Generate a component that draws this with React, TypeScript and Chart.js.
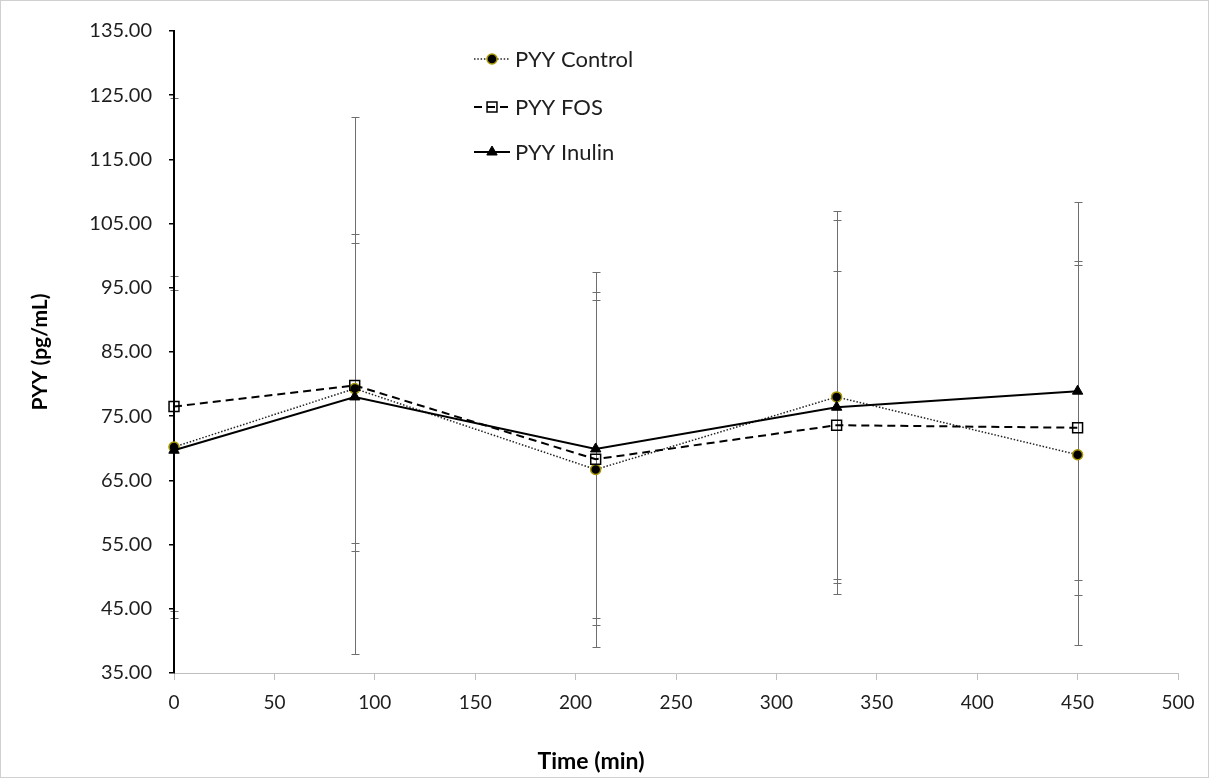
import React, { useEffect, useRef } from "react";
import { Chart, registerables } from "chart.js";

Chart.register(...registerables);

// ---- data ----
const times = [0, 90, 210, 330, 450];
const controlMean = [70.2, 79.3, 66.7, 78.0, 69.0];
const controlSD = [26.6, 24.1, 27.6, 29.0, 29.6];
const fosMean = [76.5, 79.8, 68.3, 73.6, 73.2];
const fosSD = [48.0, 41.8, 24.8, 24.0, 26.0];
const inulinMean = [69.7, 78.0, 69.9, 76.4, 78.9];
const inulinSD = [25.0, 24.0, 27.5, 29.1, 29.4];

const seriesLabels = ["PYY Control", "PYY FOS", "PYY Inulin"];
const xTitle = "Time (min)";
const yTitle = "PYY (pg/mL)";
const yMin = 35;
const yMax = 135;
const yStep = 10;
const xMin = 0;
const xMax = 500;
const xStep = 50;

const FONT = "Lato, 'Open Sans', sans-serif";

export default function App() {
  const ref = useRef<HTMLCanvasElement>(null);

  useEffect(() => {
    document.body.style.margin = "0";
    const canvas = ref.current;
    if (!canvas) return;
    const errs = [controlSD, fosSD, inulinSD];

    const errorBars = {
      id: "errorBars",
      beforeDraw(chart: any) {
        const { ctx, chartArea, scales } = chart;
        const x = scales.x;
        const y = scales.y;
        ctx.save();
        ctx.beginPath();
        ctx.rect(0, chartArea.top - 1, chart.width, chartArea.bottom - chartArea.top + 2);
        ctx.clip();
        ctx.strokeStyle = "#6e6e6e";
        ctx.lineWidth = 1;
        chart.data.datasets.forEach((ds: any, i: number) => {
          ds.data.forEach((p: any, j: number) => {
            const px = Math.round(x.getPixelForValue(p.x)) + 0.5;
            const top = Math.round(y.getPixelForValue(p.y + errs[i][j])) + 0.5;
            const bot = Math.round(y.getPixelForValue(p.y - errs[i][j])) + 0.5;
            ctx.beginPath();
            ctx.moveTo(px, top);
            ctx.lineTo(px, bot);
            ctx.moveTo(px - 4, top);
            ctx.lineTo(px + 4, top);
            ctx.moveTo(px - 4, bot);
            ctx.lineTo(px + 4, bot);
            ctx.stroke();
          });
        });
        ctx.restore();
      },
    };

    const drawMarker = (ctx: CanvasRenderingContext2D, ds: any, cx: number, cy: number) => {
      ctx.save();
      ctx.setLineDash([]);
      ctx.lineWidth = ds.pointBorderWidth;
      ctx.strokeStyle = ds.pointBorderColor;
      ctx.fillStyle = ds.pointBackgroundColor;
      const r = ds.pointRadius;
      ctx.beginPath();
      if (ds.pointStyle === "circle") {
        ctx.arc(cx, cy, r, 0, Math.PI * 2);
      } else if (ds.pointStyle === "rect") {
        const s = Math.SQRT1_2 * r;
        ctx.rect(cx - s, cy - s, 2 * s, 2 * s);
      } else {
        ctx.moveTo(cx, cy - r);
        ctx.lineTo(cx + r * Math.sin(Math.PI / 3), cy + r * 0.5);
        ctx.lineTo(cx - r * Math.sin(Math.PI / 3), cy + r * 0.5);
        ctx.closePath();
      }
      ctx.fill();
      ctx.stroke();
      ctx.restore();
    };

    const legendPlugin = {
      id: "insideLegend",
      afterDraw(chart: any) {
        const { ctx } = chart;
        const rows = [58, 106, 151];
        ctx.save();
        chart.data.datasets.forEach((ds: any, i: number) => {
          const cy = rows[i];
          ctx.beginPath();
          ctx.setLineDash(ds.borderDash || []);
          ctx.lineWidth = ds.borderWidth;
          ctx.strokeStyle = ds.borderColor;
          ctx.moveTo(473, cy);
          ctx.lineTo(509, cy);
          ctx.stroke();
          drawMarker(ctx, ds, 491, cy);
          ctx.setLineDash([]);
          ctx.fillStyle = "#1e1e1e";
          ctx.font = `22px ${FONT}`;
          ctx.textAlign = "left";
          ctx.textBaseline = "middle";
          ctx.fillText(ds.label, 514, cy + 1);
        });
        ctx.restore();
      },
    };

    const titlesPlugin = {
      id: "axisTitles",
      afterDraw(chart: any) {
        const { ctx } = chart;
        ctx.save();
        ctx.fillStyle = "#000";
        ctx.textAlign = "center";
        ctx.textBaseline = "middle";
        ctx.font = `bold 23px ${FONT}`;
        ctx.fillText(xTitle, 590, 761);
        ctx.font = `bold 21px ${FONT}`;
        ctx.translate(39, 351);
        ctx.rotate(-Math.PI / 2);
        ctx.fillText(yTitle, 0, 0);
        ctx.restore();
      },
    };

    const toPts = (arr: number[]) => times.map((t, i) => ({ x: t, y: arr[i] }));

    const chart = new Chart(canvas, {
      type: "line",
      data: {
        datasets: [
          {
            label: seriesLabels[0],
            data: toPts(controlMean),
            borderColor: "#222",
            borderWidth: 1.5,
            borderDash: [1.5, 1.8],
            pointStyle: "circle",
            pointRadius: 5,
            pointBackgroundColor: "#000",
            pointBorderColor: "#a69500",
            pointBorderWidth: 1.5,
            fill: false,
            tension: 0,
            clip: false,
            order: 3,
          } as any,
          {
            label: seriesLabels[1],
            data: toPts(fosMean),
            borderColor: "#000",
            borderWidth: 2,
            borderDash: [8, 5],
            pointStyle: "rect",
            pointRadius: 7,
            pointBackgroundColor: "rgba(255,255,255,0)",
            pointBorderColor: "#000",
            pointBorderWidth: 1.5,
            fill: false,
            tension: 0,
            clip: false,
            order: 2,
          } as any,
          {
            label: seriesLabels[2],
            data: toPts(inulinMean),
            borderColor: "#000",
            borderWidth: 2,
            pointStyle: "triangle",
            pointRadius: 6,
            pointBackgroundColor: "#000",
            pointBorderColor: "#000",
            pointBorderWidth: 1,
            fill: false,
            tension: 0,
            clip: false,
            order: 1,
          } as any,
        ],
      },
      options: {
        responsive: false,
        animation: false,
        devicePixelRatio: 1,
        layout: { padding: { top: 30, right: 30, left: 0, bottom: 0 } },
        plugins: {
          legend: { display: false },
          tooltip: { enabled: false },
        },
        scales: {
          x: {
            type: "linear",
            min: xMin,
            max: xMax,
            ticks: {
              stepSize: xStep,
              color: "#1e1e1e",
              font: { family: FONT, size: 19 },
              padding: 11,
              maxRotation: 0,
            },
            grid: {
              drawOnChartArea: false,
              drawTicks: true,
              tickLength: 7,
              color: "#bfbfbf",
              lineWidth: 1,
            },
            border: { display: true, color: "#bfbfbf", width: 1 },
            afterFit(scale: any) {
              scale.height = 104;
            },
          },
          y: {
            type: "linear",
            min: yMin,
            max: yMax,
            ticks: {
              stepSize: yStep,
              color: "#1e1e1e",
              font: { family: FONT, size: 20 },
              padding: 17,
              callback: (v: any) => Number(v).toFixed(2),
            },
            grid: {
              drawOnChartArea: false,
              drawTicks: true,
              tickLength: 5,
              color: "#000",
              lineWidth: 1.5,
            },
            border: { display: true, color: "#000", width: 2 },
            afterFit(scale: any) {
              scale.width = 173;
            },
          },
        },
      } as any,
      plugins: [errorBars, legendPlugin, titlesPlugin],
    });

    return () => chart.destroy();
  }, []);

  return (
    <div
      style={{
        position: "relative",
        width: 1209,
        height: 778,
        boxSizing: "border-box",
        border: "1px solid #d0d0d0",
        background: "#fff",
      }}
    >
      <canvas ref={ref} width={1207} height={776} style={{ display: "block" }} />
    </div>
  );
}
